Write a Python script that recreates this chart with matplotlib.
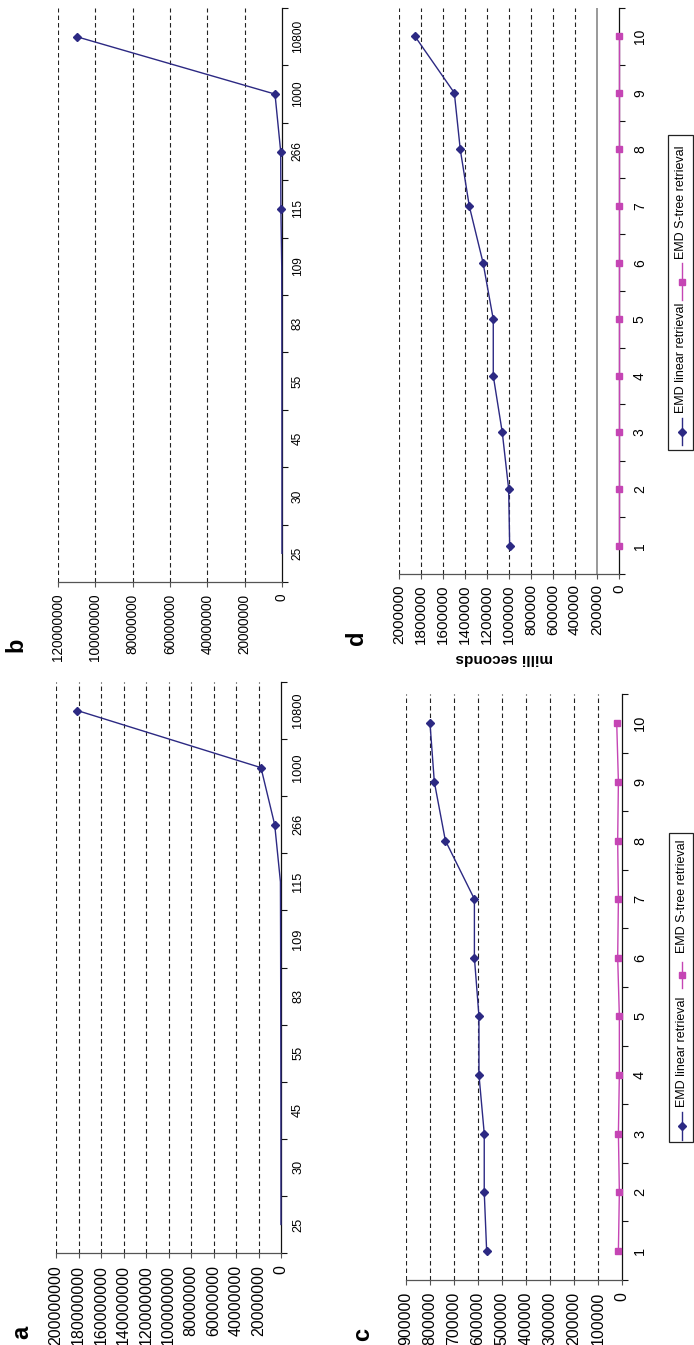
import matplotlib
matplotlib.use("Agg")
import matplotlib.pyplot as plt
from matplotlib.lines import Line2D
from matplotlib.patches import Rectangle

plt.rcParams['font.family'] = ['Liberation Sans', 'DejaVu Sans']
plt.rcParams['lines.scale_dashes'] = False

# ---------------- data ----------------
cats_ab = ['25', '30', '45', '55', '83', '109', '115', '266', '1000', '10800']
a_linear = [20000, 40000, 80000, 150000, 250000, 350000, 500000, 5600000, 17800000, 181000000]
b_linear = [10000, 20000, 30000, 50000, 80000, 150000, 600000, 700000, 3750000, 110000000]

cats_cd = ['1', '2', '3', '4', '5', '6', '7', '8', '9', '10']
c_linear = [564000, 574000, 574000, 596000, 596000, 615000, 615000, 736000, 782000, 800000]
c_stree = [15000, 11000, 15000, 11000, 11000, 18000, 15000, 18000, 15000, 22000]
d_linear = [994000, 1003000, 1061000, 1143000, 1143000, 1236000, 1361000, 1443000, 1497000, 1855000]
d_stree = [3000, 3000, 3000, 3000, 3000, 3000, 3000, 3000, 3000, 3000]

a_ticks = [0, 20000000, 40000000, 60000000, 80000000, 100000000, 120000000,
           140000000, 160000000, 180000000, 200000000]
b_ticks = [0, 20000000, 40000000, 60000000, 80000000, 100000000, 120000000]
c_ticks = [0, 100000, 200000, 300000, 400000, 500000, 600000, 700000, 800000, 900000]
d_ticks = [0, 200000, 400000, 600000, 800000, 1000000, 1200000, 1400000,
           1600000, 1800000, 2000000]

series_names = ['EMD linear retrieval', 'EMD S-tree retrieval']

BLUE = '#2c2983'
MAG = '#c545b4'

W, H = 694, 1345
fig = plt.figure(figsize=(W / 100, H / 100), dpi=100)


def px(x, y):
    return x / W, 1 - y / H


def make_axes(x0, x1, ytop, ybot):
    return fig.add_axes([x0 / W, 1 - ybot / H, (x1 - x0) / W, (ybot - ytop) / H])


def style_axes(ax, cats, ticks, vfs, cfs, cpad, vpad, solid_tick=None):
    n = len(cats)
    pos = list(range(1, n + 1))
    ax.set_ylim(0.5, n + 0.5)
    ax.set_xlim(ticks[-1], 0)
    for s in ['top', 'left']:
        ax.spines[s].set_visible(False)
    ax.spines['right'].set_color('#111111')
    ax.spines['right'].set_linewidth(0.9)
    ax.spines['bottom'].set_color('#555555')
    ax.spines['bottom'].set_linewidth(0.9)
    ax.yaxis.tick_right()
    ax.set_yticks(pos, cats, rotation=90, va='center', ha='left', fontsize=cfs)
    ax.set_yticks([p - 0.5 for p in pos] + [n + 0.5], minor=True)
    ax.tick_params(axis='y', which='major', length=0, pad=cpad)
    ax.tick_params(axis='y', which='minor', length=4, width=0.8, direction='out',
                   color='#111111', right=True, left=False)
    ax.set_xticks(ticks, [str(t) for t in ticks], rotation=90, ha='center', va='top',
                  fontsize=vfs)
    ax.tick_params(axis='x', which='major', length=3.5, width=0.8, direction='out',
                   color='#555555', pad=vpad)
    ax.grid(axis='x', color='#222222', linestyle=(0, (3.2, 2.2)), linewidth=0.8)
    ax.set_axisbelow(True)
    gl = ax.get_xgridlines()
    gl[0].set_visible(False)
    if solid_tick is not None:
        i = ticks.index(solid_tick)
        gl[i].set_linestyle('-')
        gl[i].set_color('#888888')
        gl[i].set_linewidth(1.2)
    return pos


# ---------- panel b (top-left) ----------
axb = make_axes(58, 282, 8, 582)
pos = style_axes(axb, cats_ab, b_ticks, 9.8, 8.6, 7, 5)
axb.plot(b_linear, pos, color=BLUE, lw=1.0, marker='D', ms=3.7,
         markevery=[6, 7, 8, 9], clip_on=False, zorder=3)

# ---------- panel a (bottom-left) ----------
axa = make_axes(56, 281, 682, 1253)
pos = style_axes(axa, cats_ab, a_ticks, 11.5, 9.2, 8, 5)
axa.plot(a_linear, pos, color=BLUE, lw=1.0, marker='D', ms=3.7,
         markevery=[7, 8, 9], clip_on=False, zorder=3)

# ---------- panel d (top-right) ----------
axd = make_axes(399, 619, 8, 574)
pos = style_axes(axd, cats_cd, d_ticks, 11, 10, 10, 4, solid_tick=200000)
axd.plot(d_linear, pos, color=BLUE, lw=1.0, marker='D', ms=3.7, clip_on=False, zorder=3)
axd.plot(d_stree, pos, color=MAG, lw=1.0, marker='s', ms=5.0, clip_on=False, zorder=3)

# ---------- panel c (bottom-right) ----------
axc = make_axes(406, 622, 694, 1280)
pos = style_axes(axc, cats_cd, c_ticks, 11.5, 10.5, 8, 5)
axc.plot(c_linear, pos, color=BLUE, lw=1.0, marker='D', ms=3.7, clip_on=False, zorder=3)
axc.plot(c_stree, pos, color=MAG, lw=1.0, marker='s', ms=5.0, clip_on=False, zorder=3)

# ---------- axis label ----------
fig.text(*px(504, 658), 'milli seconds', rotation=180, ha='center', va='center',
         fontsize=11, fontweight='bold')

# ---------- panel letters ----------
for lab, (x, y) in zip(['b', 'a', 'd', 'c'], [(16, 645), (22, 1332), (356, 638), (363, 1334)]):
    fig.text(*px(x, y), lab, rotation=90, ha='center', va='center',
             fontsize=17, fontweight='bold')


# ---------- rotated legends ----------
def rotated_legend(x0, x1, ytop, ybot, samp1, text1_y, samp2, text2_y):
    bx, by = px(x0, ybot)
    fig.add_artist(Rectangle((bx, by), (x1 - x0) / W, (ybot - ytop) / H,
                             transform=fig.transFigure, fill=True, facecolor='white',
                             edgecolor='#222222', linewidth=0.9, zorder=5))
    xc = (x0 + x1) / 2 + 1
    specs = [(samp1, text1_y, BLUE, 'D', 3.7, series_names[0]),
             (samp2, text2_y, MAG, 's', 5.0, series_names[1])]
    for (ya, yb), ty, col, mk, ms, name in specs:
        (fx, fy0), (_, fy1) = px(xc, ya), px(xc, yb)
        fig.add_artist(Line2D([fx, fx], [fy0, fy1], transform=fig.transFigure,
                              color=col, lw=1.0, zorder=6))
        fig.add_artist(Line2D([fx], [(fy0 + fy1) / 2], transform=fig.transFigure,
                              color=col, marker=mk, ms=ms, zorder=6))
        fig.text(*px(xc, ty), name, rotation=90, rotation_mode='anchor',
                 ha='left', va='center', fontsize=9, zorder=7)


rotated_legend(668, 693, 135, 450, (418, 445), 413, (263, 300), 259)
rotated_legend(669, 693, 833, 1142, (1112, 1140), 1107, (962, 988), 953)

fig.savefig('out.png', dpi=100)
